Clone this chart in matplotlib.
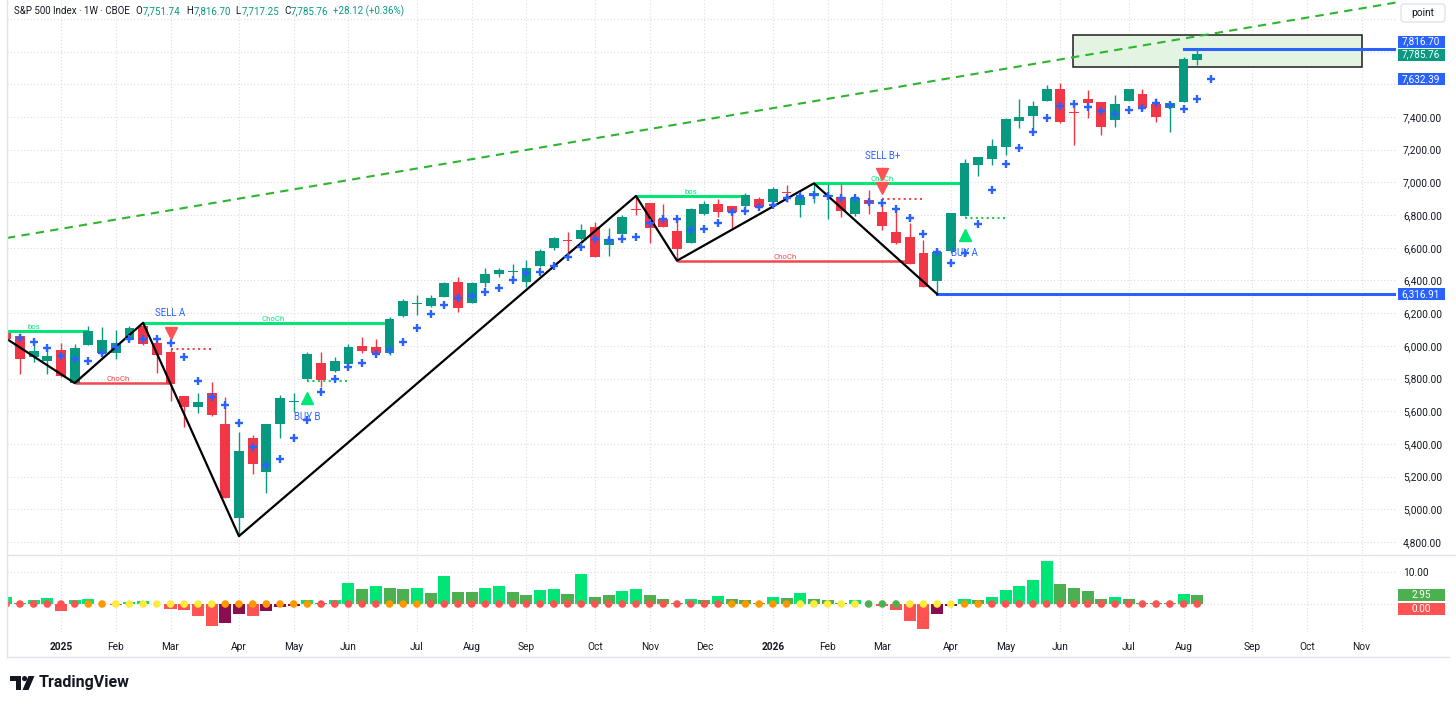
import numpy as np
import pandas as pd
import matplotlib
matplotlib.use("Agg")
import matplotlib.pyplot as plt
import matplotlib.transforms as mtransforms
from matplotlib.patches import Rectangle, Polygon, Circle, FancyBboxPatch

plt.rcParams['font.family'] = ['Roboto', 'DejaVu Sans']

# ------------------------------------------------------------------ data
FIRST_BAR = "2024-12-09"          # first (partly visible) weekly bar

opens = [6076, 6060, 5929, 5909, 5974, 5774, 6005, 5958, 5958, 6035,
         6121, 6019, 5960, 5695, 5628, 5713, 5521, 4944, 5438, 5226,
         5521, 5656, 5797, 5897, 5848, 5886, 5999, 5995, 5958, 6180,
         6254, 6244, 6297, 6389, 6264, 6383, 6438, 6450, 6393, 6489,
         6597, 6648, 6652, 6729, 6617, 6682, 6838, 6876, 6776, 6705,
         6631, 6805, 6868, 6856, 6858, 6898, 6882, 6937, 6862, 6919,
         6909, 6909, 6807, 6892, 6817, 6694, 6668, 6570, 6399, 6582,
         6796, 7106, 7143, 7219, 7378, 7406, 7500, 7571, 7430, 7508,
         7494, 7382, 7500, 7541, 7480, 7457, 7492, 7751.74]
highs = [6090, 6076, 6035, 5995, 6015, 6009, 6121, 6117, 6096, 6121,
         6141, 6052, 5984, 5695, 5709, 5780, 5689, 5474, 5454, 5519,
         5699, 5709, 5964, 5960, 5933, 6011, 6056, 6039, 6178, 6284,
         6311, 6311, 6388, 6419, 6388, 6474, 6474, 6499, 6525, 6590,
         6668, 6698, 6745, 6760, 6719, 6800, 6917, 6876, 6868, 6780,
         6841, 6888, 6896, 6856, 6934, 6913, 6974, 6984, 6923, 6994,
         6990, 6990, 6913, 6953, 6872, 6852, 6749, 6648, 6590, 6815,
         7141, 7157, 7264, 7392, 7508, 7500, 7596, 7610, 7484, 7565,
         7494, 7535, 7573, 7569, 7514, 7494, 7770, 7816.70]
lows = [6030, 5827, 5903, 5827, 5812, 5772, 6005, 5930, 5917, 6031,
        6005, 5831, 5664, 5501, 5591, 5570, 5067, 4836, 5216, 5101,
        5434, 5597, 5790, 5750, 5840, 5880, 5958, 5933, 5944, 6174,
        6189, 6240, 6297, 6209, 6260, 6362, 6423, 6403, 6358, 6485,
        6588, 6535, 6648, 6542, 6550, 6668, 6800, 6627, 6725, 6521,
        6627, 6801, 6790, 6719, 6852, 6841, 6872, 6882, 6786, 6872,
        6774, 6790, 6792, 6807, 6709, 6623, 6501, 6358, 6316.91, 6570,
        6794, 7039, 7106, 7168, 7335, 7331, 7496, 7361, 7229, 7392,
        7290, 7341, 7496, 7443, 7372, 7310, 7490, 7717.25]
closes = [6039, 5921, 5968, 5937, 5818, 5988, 6090, 6035, 6019, 6107,
          6010, 5944, 5766, 5628, 5658, 5580, 5070, 5358, 5275, 5519,
          5683, 5662, 5950, 5791, 5907, 5995, 5970, 5958, 6166, 6272,
          6258, 6291, 6383, 6234, 6383, 6440, 6464, 6454, 6474, 6580,
          6658, 6641, 6709, 6542, 6656, 6790, 6830, 6723, 6725, 6593,
          6837, 6866, 6817, 6821, 6923, 6847, 6957, 6933, 6909, 6933,
          6921, 6827, 6903, 6868, 6733, 6627, 6501, 6362, 6576, 6811,
          7116, 7153, 7223, 7388, 7398, 7467, 7569, 7372, 7425, 7488,
          7341, 7478, 7569, 7453, 7402, 7484, 7757.64, 7785.76]

# blue "+" trailing markers, starting one bar after FIRST_BAR (one bar past the last candle)
stops = [6046, 6021, 5988, 5937, 5917, 5907, 5958, 5995, 6041, 6041,
         6041, 6019, 5933, 5785, 5689, 5638, 5526, 5383, 5271, 5305,
         5434, 5546, 5715, 5797, 5872, 5897, 5948, 5974, 6025, 6107,
         6195, 6250, 6291, 6305, 6327, 6352, 6403, 6444, 6450, 6489,
         6542, 6607, 6654, 6648, 6654, 6668, 6754, 6776, 6776, 6709,
         6715, 6750, 6817, 6827, 6852, 6862, 6903, 6915, 6923, 6917,
         6903, 6903, 6882, 6872, 6837, 6784, 6682, 6576, 6509, 6570,
         6745, 6954, 7110, 7210, 7310, 7392, 7469, 7480, 7459, 7439,
         7418, 7443, 7457, 7484, 7473, 7447, 7510, 7632.39]

# zigzag pivots (bar offset from FIRST_BAR, price)
zz_bar = [-1, 5, 10, 17, 46, 49, 59, 68]
zz_price = [6099, 5772, 6141, 4836, 6917, 6521, 6994, 6316.91]

# squeeze momentum histogram
mom = [2.2, 0.3, 1.35, 1.9, -2.3, 1.35, 1.5, 0.15, -0.3, 0.6,
       0.8, 0.15, -1.6, -2.0, -3.9, -6.8, -5.9, -3.1, -3.9, -2.3,
       -0.9, -0.5, 1.1, 0.2, 1.35, 6.6, 4.7, 5.5, 5.1, 4.7,
       5.0, 3.4, 8.6, 3.7, 3.9, 5.0, 5.5, 3.7, 2.7, 4.3,
       4.7, 3.2, 9.5, 2.2, 2.7, 4.0, 4.8, 2.7, 1.7, 0.2,
       1.7, 1.25, 2.5, 1.5, 1.25, 0.3, 2.3, 2.0, 3.5, 1.7,
       1.25, 0.2, 1.25, 0.15, -0.7, -2.0, -5.4, -7.7, -3.1, -0.5,
       1.7, 1.35, 2.1, 4.3, 5.5, 7.6, 13.3, 6.4, 5.0, 4.1,
       1.7, 2.3, 1.7, 0.4, 0.2, 0.2, 3.2, 2.95]
mom_kind = ("LGLLRLLGRL" "LGRRRRMMRM" "MMLGLLGLGG" "LGLGGLLGGL" "LGLGGLLGGG"
            "LGLGGGLGLG" "GGLGRRRRMM" "LGLLLLLGGG" "GLGGGGLG")
sqz_kind = ("rrrrrr" "oo" "yyyyyyyy" "ooooooo" "rrrrr" "ooo"
            "rrrrrrrrrrrrrrrrrrrrrr" "ooooo" "yyyyy" "ggg" "yyyy" "oo"
            "rrrrrrrrrrrrrrrr")

price_ticks = [4800, 5000, 5200, 5400, 5600, 5800, 6000, 6200, 6400,
               6600, 6800, 7000, 7200, 7400, 7600, 7800, 8000]
hidden_ticks = [7600, 7800, 8000]

n = len(opens)
assert all(len(a) == n for a in (highs, lows, closes, stops, mom, mom_kind, sqz_kind))
dates = pd.date_range(FIRST_BAR, periods=n + 16, freq="W-MON")
xs = np.arange(n)
o, h, l, c = map(np.asarray, (opens, highs, lows, closes))

UP, DN = "#089981", "#F23645"
BLUE = "#2962FF"
LIME = "#00E676"
GRID = "#DADDE4"
TXT = "#131722"

# ------------------------------------------------------------------ figure
W, H = 1456, 705
fig = plt.figure(figsize=(W / 100, H / 100), dpi=100)
fig.patch.set_facecolor("white")


def fbox(x0, y0, x1, y1):
    return [x0 / W, 1 - y1 / H, (x1 - x0) / W, (y1 - y0) / H]


ax = fig.add_axes(fbox(7, 0, 1396, 554))
ax2 = fig.add_axes(fbox(7, 555, 1396, 632), sharex=ax)
ax.set_xlim(0.056, 101.52)
ax.set_ylim(4726.6, 8115.8)
ax2.set_ylim(-8.75, 15.31)

for a in (ax, ax2):
    for s in a.spines.values():
        s.set_visible(False)
    a.set_facecolor("white")

# month ticks
tick_pos, tick_lab, tick_bold = [], [], []
for k in range(1, len(dates)):
    if dates[k].month != dates[k - 1].month:
        tick_pos.append(k)
        if dates[k].month == 1:
            tick_lab.append(str(dates[k].year))
            tick_bold.append(True)
        else:
            tick_lab.append(dates[k].strftime("%b"))
            tick_bold.append(False)

ax2.set_xticks(tick_pos)
ax2.set_xticklabels(tick_lab)
for t, b in zip(ax2.get_xticklabels(), tick_bold):
    t.set_fontweight("bold" if b else "normal")
ax2.tick_params(axis="x", length=0, pad=7, labelsize=7.3, colors=TXT)
ax.tick_params(axis="x", length=0, labelbottom=False)

ax.set_yticks(price_ticks)
ax.set_yticklabels(["" if p in hidden_ticks else f"{p:,.2f}" for p in price_ticks])
ax.yaxis.tick_right()
ax.tick_params(axis="y", length=0, pad=5, labelsize=7.3, colors=TXT)

ax2.set_yticks([0, 10])
ax2.set_yticklabels(["", "10.00"])
ax2.yaxis.tick_right()
ax2.tick_params(axis="y", length=0, pad=5, labelsize=7.3, colors=TXT)

for a in (ax, ax2):
    a.grid(True, color=GRID, lw=0.8, ls=(0, (1, 2)), zorder=0)
    a.set_axisbelow(True)

# ------------------------------------------------------------------ main pane
# target zone box
ax.add_patch(Rectangle((77.9, 7706), 21.1, 196, facecolor="#E3F4E2",
                       edgecolor="#1E1E1E", lw=1.1, zorder=1))
# trend line
ax.axline((0.056, 6660), (101.08, 8094), color="#2DB52D", lw=1.5,
          ls=(0, (4, 3)), zorder=2)

# candles
col = np.where(c >= o, UP, DN)
ax.vlines(xs, l, h, colors=col, lw=1.0, zorder=3)
body_lo = np.minimum(o, c)
body_h = np.maximum(np.abs(c - o), 7)
ax.bar(xs, body_h, bottom=body_lo, width=0.72, color=col, lw=0, zorder=3.1)

# structure lines
def hline(x0, x1, y, color, lw=2.2, ls="-", label=None, lx=None):
    ax.plot([x0, x1], [y, y], color=color, lw=lw, ls=ls, zorder=2.5,
            solid_capstyle="butt")
    if label:
        ax.text(lx, y + 6, label, color=color, fontsize=5.6, ha="center",
                va="bottom", zorder=6)

hline(-3, 6, 6091, LIME, label="bos", lx=2)
hline(10, 28, 6141, LIME, label="ChoCh", lx=19.5)
hline(5, 12, 5772, "#F0484F", lw=1.8, label="ChoCh", lx=8.2)
hline(46, 54, 6917, LIME, label="bos", lx=50)
hline(49, 66, 6521, "#F0484F", lw=1.8, label="ChoCh", lx=56.9)
hline(59, 70, 6994, LIME, label="ChoCh", lx=64)
hline(12, 15, 5981, "#F0484F", lw=1.5, ls=(0, (1, 1.6)))
hline(22, 25, 5787, "#22C55E", lw=1.5, ls=(0, (1, 1.6)))
hline(64, 67, 6896, "#F0484F", lw=1.5, ls=(0, (1, 1.6)))
hline(70, 73, 6784, "#22C55E", lw=1.5, ls=(0, (1, 1.6)))

# key levels
ax.plot([68, 102], [6316.91, 6316.91], color=BLUE, lw=2.2, zorder=2.6)
ax.plot([86, 102], [7816.70, 7816.70], color=BLUE, lw=2.2, zorder=2.6)

# zigzag
ax.plot(zz_bar, zz_price, color="black", lw=1.6, zorder=4)

# trailing "+" markers
ax.plot(np.arange(1, n + 1), stops, ls="none", marker="+", ms=5.6, mew=1.7,
        color=BLUE, zorder=5)

# signals
ax.plot([12], [6080], marker="v", ms=9, color="#FF5252", ls="none", zorder=6)
ax.text(12, 6201, "SELL A", color=BLUE, fontsize=7, ha="center", va="center", zorder=6)
ax.plot([22], [5681], marker="^", ms=9, color=LIME, ls="none", zorder=6)
ax.text(22, 5566, "BUY B", color=BLUE, fontsize=7, ha="center", va="center", zorder=6)
ax.plot([64, 64], [7054, 6965], marker="v", ms=9, color="#FF5252", ls="none", zorder=6)
ax.text(64, 7163, "SELL B+", color=BLUE, fontsize=7, ha="center", va="center", zorder=6)
ax.plot([70], [6678], marker="^", ms=9, color=LIME, ls="none", zorder=6)
ax.text(70, 6568, "BUY A", color=BLUE, fontsize=7, ha="center", va="center", zorder=6)


def tag(a, yval, text, bg, hunits):
    T = mtransforms.blended_transform_factory(a.transAxes, a.transData)
    x0 = 1 + 1.5 / 1389
    w = 47 / 1389
    a.add_patch(Rectangle((x0, yval - hunits / 2), w, hunits, transform=T,
                          facecolor=bg, edgecolor="none", clip_on=False, zorder=20))
    a.text(x0 + w / 2, yval, text, transform=T, ha="center", va="center",
           color="white", fontsize=7.2, clip_on=False, zorder=21)


PXU = 1 / 0.163462
tag(ax, 7861, "7,816.70", BLUE, 12 * PXU)
tag(ax, 7782, "7,785.76", UP, 12 * PXU)
tag(ax, 7632.39, "7,632.39", BLUE, 12 * PXU)
tag(ax, 6316.91, "6,316.91", BLUE, 12 * PXU)

# ------------------------------------------------------------------ indicator pane
kind_col = {"L": "#00E676", "G": "#4CAF50", "R": "#FF5252", "M": "#880E4F"}
dot_col = {"r": "#FF5252", "o": "#FF9800", "y": "#FFEB3B", "g": "#4CAF50"}
ax2.bar(xs, mom, width=0.88, color=[kind_col[k] for k in mom_kind], lw=0, zorder=2)
ax2.scatter(xs, np.zeros(n), s=30, c=[dot_col[k] for k in sqz_kind], lw=0, zorder=3)
tag(ax2, 2.95, "2.95", "#4CAF50", 12 / 3.2)
tag(ax2, -1.6, "0.00", "#FF5252", 12 / 3.2)

# ------------------------------------------------------------------ overlay (header, frame, logo)
ov = fig.add_axes([0, 0, 1, 1], zorder=10)
ov.set_xlim(0, W)
ov.set_ylim(H, 0)
ov.axis("off")
ov.patch.set_alpha(0)

ov.plot([7, W], [554.5, 554.5], color="#E0E3EB", lw=1)
ov.plot([7, 1449], [657, 657], color="#E0E3EB", lw=1)
ov.plot([7, 7], [0, 657], color="#E0E3EB", lw=1)

renderer = fig.canvas.get_renderer()
hdr_y = 11.5
HS = 7.0


def put(xp, s, color, size=HS):
    t = ov.text(xp, hdr_y, s, fontsize=size, color=color, va="center", ha="left")
    return t.get_window_extent(renderer).x1


xe = put(14, "S&P 500 Index · 1W · CBOE", TXT)
xp = xe + 6
for letter, val in [("O", "7,751.74"), ("H", "7,816.70"), ("L", "7,717.25"), ("C", "7,785.76")]:
    xe = put(xp, letter, TXT)
    xe = put(xe + 0.5, val, UP)
    xp = xe + 5
put(xp, "+28.12 (+0.36%)", UP)

ov.add_patch(FancyBboxPatch((1401, 4), 44, 18, boxstyle="round,pad=0,rounding_size=3",
                            facecolor="white", edgecolor="#E0E3EB", lw=1))
ov.text(1423, 13, "point", fontsize=7.3, color=TXT, ha="center", va="center")

# TradingView logo
ov.add_patch(Polygon([(10, 676), (21, 676), (21, 690), (16, 690), (16, 681), (10, 681)],
                     closed=True, facecolor=TXT, edgecolor="none"))
ov.add_patch(Circle((24.6, 678.6), 2.6, facecolor=TXT, edgecolor="none"))
ov.add_patch(Polygon([(28.5, 676), (34.5, 676), (28.5, 690), (22.5, 690)],
                     closed=True, facecolor=TXT, edgecolor="none"))
ov.text(39, 682.5, "TradingView", fontsize=11.5, fontweight="bold", color=TXT,
        va="center", ha="left")

fig.savefig("out.png", dpi=100, facecolor="white")
